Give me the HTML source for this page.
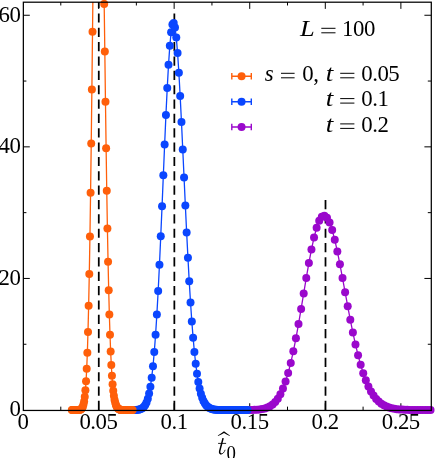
<!DOCTYPE html>
<html><head><meta charset="utf-8"><title>chart</title>
<style>
html,body{margin:0;padding:0;background:#fff;}
body{width:435px;height:458px;position:relative;overflow:hidden;font-family:"Liberation Serif",serif;}
</style></head><body>
<svg width="435" height="458" viewBox="0 0 435 458" style="position:absolute;left:0;top:0;will-change:transform">
<defs><clipPath id="ax"><rect x="23.00" y="2.09" width="408.20" height="407.96"/></clipPath></defs>
<rect width="435" height="458" fill="#fff"/>
<path d="M60.79 410.05 v-3.40 M60.79 2.09 v3.40 M98.58 410.05 v-6.80 M98.58 2.09 v6.80 M136.36 410.05 v-3.40 M136.36 2.09 v3.40 M174.15 410.05 v-6.80 M174.15 2.09 v6.80 M211.94 410.05 v-3.40 M211.94 2.09 v3.40 M249.73 410.05 v-6.80 M249.73 2.09 v6.80 M287.51 410.05 v-3.40 M287.51 2.09 v3.40 M325.30 410.05 v-6.80 M325.30 2.09 v6.80 M363.09 410.05 v-3.40 M363.09 2.09 v3.40 M400.88 410.05 v-6.80 M400.88 2.09 v6.80 M23.00 344.25 h3.40 M431.20 344.25 h-3.40 M23.00 278.45 h6.80 M431.20 278.45 h-6.80 M23.00 212.65 h3.40 M431.20 212.65 h-3.40 M23.00 146.85 h6.80 M431.20 146.85 h-6.80 M23.00 81.05 h3.40 M431.20 81.05 h-3.40 M23.00 15.25 h6.80 M431.20 15.25 h-6.80" stroke="#000" stroke-width="1.00" fill="none"/>
<line x1="98.78" y1="410.05" x2="98.78" y2="2.09" stroke="#000" stroke-width="1.75" stroke-dasharray="9.2 5.15"/>
<line x1="174.35" y1="410.05" x2="174.35" y2="13.30" stroke="#000" stroke-width="1.75" stroke-dasharray="9.2 5.15"/>
<line x1="325.50" y1="410.05" x2="325.50" y2="199.70" stroke="#000" stroke-width="1.75" stroke-dasharray="9.2 5.15"/>
<g fill="#9a08cc"><path d="M218.25 410.05 L220.84 410.05 L223.43 410.05 L226.02 410.05 L228.61 410.05 L231.19 410.05 L233.78 410.05 L236.37 410.05 L238.96 410.05 L241.55 410.04 L244.14 410.03 L246.73 410.02 L249.32 409.99 L251.91 409.94 L254.50 409.85 L257.08 409.70 L259.67 409.46 L262.26 409.08 L264.85 408.49 L267.44 407.61 L270.03 406.33 L272.62 404.51 L275.21 402.00 L277.80 398.63 L280.39 394.21 L282.97 388.56 L285.56 381.53 L288.15 373.00 L290.74 362.91 L293.33 351.29 L295.92 338.26 L298.51 324.03 L301.10 308.94 L303.69 293.41 L306.28 277.94 L308.87 263.09 L311.45 249.44 L314.04 237.53 L316.63 227.86 L319.22 220.83 L321.81 216.71 L324.40 215.65 L326.99 217.63 L329.58 222.52 L332.17 230.03 L334.76 239.81 L337.34 251.40 L339.93 264.31 L342.52 278.05 L345.11 292.15 L347.70 306.18 L350.29 319.76 L352.88 332.60 L355.47 344.47 L358.06 355.23 L360.65 364.80 L363.23 373.16 L365.82 380.34 L368.41 386.41 L371.00 391.46 L373.59 395.60 L376.18 398.95 L378.77 401.62 L381.36 403.72 L383.95 405.34 L386.54 406.59 L389.12 407.54 L391.71 408.24 L394.30 408.76 L396.89 409.14 L399.48 409.42 L402.07 409.61 L404.66 409.75 L407.25 409.85 L409.84 409.91 L412.43 409.96 L415.01 409.99 L417.60 410.01 L420.19 410.02 L422.78 410.03 L425.37 410.04 L427.96 410.04 L430.55 410.05" fill="none" stroke="#9a08cc" stroke-width="1.30" stroke-linejoin="round" clip-path="url(#ax)"/>
<circle cx="218.25" cy="410.05" r="4.00"/>
<circle cx="220.84" cy="410.05" r="4.00"/>
<circle cx="223.43" cy="410.05" r="4.00"/>
<circle cx="226.02" cy="410.05" r="4.00"/>
<circle cx="228.61" cy="410.05" r="4.00"/>
<circle cx="231.19" cy="410.05" r="4.00"/>
<circle cx="233.78" cy="410.05" r="4.00"/>
<circle cx="236.37" cy="410.05" r="4.00"/>
<circle cx="238.96" cy="410.05" r="4.00"/>
<circle cx="241.55" cy="410.04" r="4.00"/>
<circle cx="244.14" cy="410.03" r="4.00"/>
<circle cx="246.73" cy="410.02" r="4.00"/>
<circle cx="249.32" cy="409.99" r="4.00"/>
<circle cx="251.91" cy="409.94" r="4.00"/>
<circle cx="254.50" cy="409.85" r="4.00"/>
<circle cx="257.08" cy="409.70" r="4.00"/>
<circle cx="259.67" cy="409.46" r="4.00"/>
<circle cx="262.26" cy="409.08" r="4.00"/>
<circle cx="264.85" cy="408.49" r="4.00"/>
<circle cx="267.44" cy="407.61" r="4.00"/>
<circle cx="270.03" cy="406.33" r="4.00"/>
<circle cx="272.62" cy="404.51" r="4.00"/>
<circle cx="275.21" cy="402.00" r="4.00"/>
<circle cx="277.80" cy="398.63" r="4.00"/>
<circle cx="280.39" cy="394.21" r="4.00"/>
<circle cx="282.97" cy="388.56" r="4.00"/>
<circle cx="285.56" cy="381.53" r="4.00"/>
<circle cx="288.15" cy="373.00" r="4.00"/>
<circle cx="290.74" cy="362.91" r="4.00"/>
<circle cx="293.33" cy="351.29" r="4.00"/>
<circle cx="295.92" cy="338.26" r="4.00"/>
<circle cx="298.51" cy="324.03" r="4.00"/>
<circle cx="301.10" cy="308.94" r="4.00"/>
<circle cx="303.69" cy="293.41" r="4.00"/>
<circle cx="306.28" cy="277.94" r="4.00"/>
<circle cx="308.87" cy="263.09" r="4.00"/>
<circle cx="311.45" cy="249.44" r="4.00"/>
<circle cx="314.04" cy="237.53" r="4.00"/>
<circle cx="316.63" cy="227.86" r="4.00"/>
<circle cx="319.22" cy="220.83" r="4.00"/>
<circle cx="321.81" cy="216.71" r="4.00"/>
<circle cx="324.40" cy="215.65" r="4.00"/>
<circle cx="326.99" cy="217.63" r="4.00"/>
<circle cx="329.58" cy="222.52" r="4.00"/>
<circle cx="332.17" cy="230.03" r="4.00"/>
<circle cx="334.76" cy="239.81" r="4.00"/>
<circle cx="337.34" cy="251.40" r="4.00"/>
<circle cx="339.93" cy="264.31" r="4.00"/>
<circle cx="342.52" cy="278.05" r="4.00"/>
<circle cx="345.11" cy="292.15" r="4.00"/>
<circle cx="347.70" cy="306.18" r="4.00"/>
<circle cx="350.29" cy="319.76" r="4.00"/>
<circle cx="352.88" cy="332.60" r="4.00"/>
<circle cx="355.47" cy="344.47" r="4.00"/>
<circle cx="358.06" cy="355.23" r="4.00"/>
<circle cx="360.65" cy="364.80" r="4.00"/>
<circle cx="363.23" cy="373.16" r="4.00"/>
<circle cx="365.82" cy="380.34" r="4.00"/>
<circle cx="368.41" cy="386.41" r="4.00"/>
<circle cx="371.00" cy="391.46" r="4.00"/>
<circle cx="373.59" cy="395.60" r="4.00"/>
<circle cx="376.18" cy="398.95" r="4.00"/>
<circle cx="378.77" cy="401.62" r="4.00"/>
<circle cx="381.36" cy="403.72" r="4.00"/>
<circle cx="383.95" cy="405.34" r="4.00"/>
<circle cx="386.54" cy="406.59" r="4.00"/>
<circle cx="389.12" cy="407.54" r="4.00"/>
<circle cx="391.71" cy="408.24" r="4.00"/>
<circle cx="394.30" cy="408.76" r="4.00"/>
<circle cx="396.89" cy="409.14" r="4.00"/>
<circle cx="399.48" cy="409.42" r="4.00"/>
<circle cx="402.07" cy="409.61" r="4.00"/>
<circle cx="404.66" cy="409.75" r="4.00"/>
<circle cx="407.25" cy="409.85" r="4.00"/>
<circle cx="409.84" cy="409.91" r="4.00"/>
<circle cx="412.43" cy="409.96" r="4.00"/>
<circle cx="415.01" cy="409.99" r="4.00"/>
<circle cx="417.60" cy="410.01" r="4.00"/>
<circle cx="420.19" cy="410.02" r="4.00"/>
<circle cx="422.78" cy="410.03" r="4.00"/>
<circle cx="425.37" cy="410.04" r="4.00"/>
<circle cx="427.96" cy="410.04" r="4.00"/>
<circle cx="430.55" cy="410.05" r="4.00"/></g>
<g fill="#0a46ff"><path d="M120.62 410.05 L121.92 410.05 L123.21 410.05 L124.51 410.05 L125.80 410.05 L127.10 410.05 L128.39 410.05 L129.69 410.05 L130.98 410.04 L132.28 410.03 L133.57 410.02 L134.86 409.98 L136.16 409.92 L137.45 409.82 L138.75 409.63 L140.04 409.33 L141.34 408.83 L142.63 408.04 L143.93 406.82 L145.22 405.01 L146.51 402.38 L147.81 398.67 L149.10 393.54 L150.40 386.67 L151.69 377.68 L152.99 366.22 L154.28 351.98 L155.58 334.74 L156.87 314.40 L158.17 291.01 L159.46 264.84 L160.75 236.33 L162.05 206.17 L163.34 175.21 L164.64 144.47 L165.93 115.05 L167.23 88.11 L168.52 64.73 L169.82 45.87 L171.11 32.32 L172.41 24.61 L173.70 22.99 L174.99 27.42 L176.29 37.61 L177.58 52.98 L178.88 72.77 L180.17 96.10 L181.47 121.99 L182.76 149.45 L184.06 177.55 L185.35 205.44 L186.64 232.39 L187.94 257.81 L189.23 281.29 L190.53 302.53 L191.82 321.39 L193.12 337.84 L194.41 351.95 L195.71 363.87 L197.00 373.77 L198.30 381.88 L199.59 388.43 L200.88 393.64 L202.18 397.74 L203.47 400.91 L204.77 403.34 L206.06 405.17 L207.36 406.54 L208.65 407.56 L209.95 408.29 L211.24 408.83 L212.53 409.21 L213.83 409.47 L215.12 409.66 L216.42 409.79 L217.71 409.88 L219.01 409.94 L220.30 409.98 L221.60 410.00 L222.89 410.02 L224.19 410.03 L225.48 410.04 L226.77 410.04 L228.07 410.05 L229.36 410.05 L230.66 410.05 L231.95 410.05 L233.25 410.05 L234.54 410.05 L235.84 410.05 L237.13 410.05 L238.43 410.05 L239.72 410.05 L241.01 410.05 L242.31 410.05 L243.60 410.05 L244.90 410.05 L246.19 410.05 L247.49 410.05" fill="none" stroke="#0a46ff" stroke-width="1.30" stroke-linejoin="round" clip-path="url(#ax)"/>
<circle cx="120.62" cy="410.05" r="4.00"/>
<circle cx="121.92" cy="410.05" r="4.00"/>
<circle cx="123.21" cy="410.05" r="4.00"/>
<circle cx="124.51" cy="410.05" r="4.00"/>
<circle cx="125.80" cy="410.05" r="4.00"/>
<circle cx="127.10" cy="410.05" r="4.00"/>
<circle cx="128.39" cy="410.05" r="4.00"/>
<circle cx="129.69" cy="410.05" r="4.00"/>
<circle cx="130.98" cy="410.04" r="4.00"/>
<circle cx="132.28" cy="410.03" r="4.00"/>
<circle cx="133.57" cy="410.02" r="4.00"/>
<circle cx="134.86" cy="409.98" r="4.00"/>
<circle cx="136.16" cy="409.92" r="4.00"/>
<circle cx="137.45" cy="409.82" r="4.00"/>
<circle cx="138.75" cy="409.63" r="4.00"/>
<circle cx="140.04" cy="409.33" r="4.00"/>
<circle cx="141.34" cy="408.83" r="4.00"/>
<circle cx="142.63" cy="408.04" r="4.00"/>
<circle cx="143.93" cy="406.82" r="4.00"/>
<circle cx="145.22" cy="405.01" r="4.00"/>
<circle cx="146.51" cy="402.38" r="4.00"/>
<circle cx="147.81" cy="398.67" r="4.00"/>
<circle cx="149.10" cy="393.54" r="4.00"/>
<circle cx="150.40" cy="386.67" r="4.00"/>
<circle cx="151.69" cy="377.68" r="4.00"/>
<circle cx="152.99" cy="366.22" r="4.00"/>
<circle cx="154.28" cy="351.98" r="4.00"/>
<circle cx="155.58" cy="334.74" r="4.00"/>
<circle cx="156.87" cy="314.40" r="4.00"/>
<circle cx="158.17" cy="291.01" r="4.00"/>
<circle cx="159.46" cy="264.84" r="4.00"/>
<circle cx="160.75" cy="236.33" r="4.00"/>
<circle cx="162.05" cy="206.17" r="4.00"/>
<circle cx="163.34" cy="175.21" r="4.00"/>
<circle cx="164.64" cy="144.47" r="4.00"/>
<circle cx="165.93" cy="115.05" r="4.00"/>
<circle cx="167.23" cy="88.11" r="4.00"/>
<circle cx="168.52" cy="64.73" r="4.00"/>
<circle cx="169.82" cy="45.87" r="4.00"/>
<circle cx="171.11" cy="32.32" r="4.00"/>
<circle cx="172.41" cy="24.61" r="4.00"/>
<circle cx="173.70" cy="22.99" r="4.00"/>
<circle cx="174.99" cy="27.42" r="4.00"/>
<circle cx="176.29" cy="37.61" r="4.00"/>
<circle cx="177.58" cy="52.98" r="4.00"/>
<circle cx="178.88" cy="72.77" r="4.00"/>
<circle cx="180.17" cy="96.10" r="4.00"/>
<circle cx="181.47" cy="121.99" r="4.00"/>
<circle cx="182.76" cy="149.45" r="4.00"/>
<circle cx="184.06" cy="177.55" r="4.00"/>
<circle cx="185.35" cy="205.44" r="4.00"/>
<circle cx="186.64" cy="232.39" r="4.00"/>
<circle cx="187.94" cy="257.81" r="4.00"/>
<circle cx="189.23" cy="281.29" r="4.00"/>
<circle cx="190.53" cy="302.53" r="4.00"/>
<circle cx="191.82" cy="321.39" r="4.00"/>
<circle cx="193.12" cy="337.84" r="4.00"/>
<circle cx="194.41" cy="351.95" r="4.00"/>
<circle cx="195.71" cy="363.87" r="4.00"/>
<circle cx="197.00" cy="373.77" r="4.00"/>
<circle cx="198.30" cy="381.88" r="4.00"/>
<circle cx="199.59" cy="388.43" r="4.00"/>
<circle cx="200.88" cy="393.64" r="4.00"/>
<circle cx="202.18" cy="397.74" r="4.00"/>
<circle cx="203.47" cy="400.91" r="4.00"/>
<circle cx="204.77" cy="403.34" r="4.00"/>
<circle cx="206.06" cy="405.17" r="4.00"/>
<circle cx="207.36" cy="406.54" r="4.00"/>
<circle cx="208.65" cy="407.56" r="4.00"/>
<circle cx="209.95" cy="408.29" r="4.00"/>
<circle cx="211.24" cy="408.83" r="4.00"/>
<circle cx="212.53" cy="409.21" r="4.00"/>
<circle cx="213.83" cy="409.47" r="4.00"/>
<circle cx="215.12" cy="409.66" r="4.00"/>
<circle cx="216.42" cy="409.79" r="4.00"/>
<circle cx="217.71" cy="409.88" r="4.00"/>
<circle cx="219.01" cy="409.94" r="4.00"/>
<circle cx="220.30" cy="409.98" r="4.00"/>
<circle cx="221.60" cy="410.00" r="4.00"/>
<circle cx="222.89" cy="410.02" r="4.00"/>
<circle cx="224.19" cy="410.03" r="4.00"/>
<circle cx="225.48" cy="410.04" r="4.00"/>
<circle cx="226.77" cy="410.04" r="4.00"/>
<circle cx="228.07" cy="410.05" r="4.00"/>
<circle cx="229.36" cy="410.05" r="4.00"/>
<circle cx="230.66" cy="410.05" r="4.00"/>
<circle cx="231.95" cy="410.05" r="4.00"/>
<circle cx="233.25" cy="410.05" r="4.00"/>
<circle cx="234.54" cy="410.05" r="4.00"/>
<circle cx="235.84" cy="410.05" r="4.00"/>
<circle cx="237.13" cy="410.05" r="4.00"/>
<circle cx="238.43" cy="410.05" r="4.00"/>
<circle cx="239.72" cy="410.05" r="4.00"/>
<circle cx="241.01" cy="410.05" r="4.00"/>
<circle cx="242.31" cy="410.05" r="4.00"/>
<circle cx="243.60" cy="410.05" r="4.00"/>
<circle cx="244.90" cy="410.05" r="4.00"/>
<circle cx="246.19" cy="410.05" r="4.00"/>
<circle cx="247.49" cy="410.05" r="4.00"/></g>
<g fill="#ff5f0a"><path d="M71.81 410.05 L72.46 410.05 L73.11 410.05 L73.75 410.05 L74.40 410.05 L75.05 410.05 L75.70 410.05 L76.34 410.04 L76.99 410.04 L77.64 410.02 L78.28 410.00 L78.93 409.94 L79.58 409.84 L80.23 409.67 L80.87 409.36 L81.52 408.84 L82.17 408.00 L82.82 406.65 L83.46 404.56 L84.11 401.42 L84.76 396.82 L85.40 390.26 L86.05 381.17 L86.70 368.87 L87.35 352.67 L87.99 331.88 L88.64 305.86 L89.29 274.12 L89.94 236.41 L90.58 192.73 L91.23 143.47 L91.88 89.40 L92.52 31.72 L93.17 -28.01 L93.82 -87.89 L94.47 -145.81 L95.11 -199.57 L95.76 -247.00 L96.41 -286.16 L97.06 -315.41 L97.70 -333.60 L98.35 -340.06 L99.00 -334.71 L99.64 -318.01 L100.29 -290.93 L100.94 -254.82 L101.59 -211.36 L102.23 -162.41 L102.88 -109.87 L103.53 -55.60 L104.18 3.90 L104.82 51.52 L105.47 101.70 L106.12 148.29 L106.76 190.69 L107.41 228.53 L108.06 261.70 L108.71 290.29 L109.35 314.53 L110.00 334.77 L110.65 351.41 L111.29 364.89 L111.94 375.67 L112.59 384.17 L113.24 390.78 L113.88 395.86 L114.53 399.71 L115.18 402.59 L115.83 404.73 L116.47 406.29 L117.12 407.42 L117.77 408.23 L118.41 408.80 L119.06 409.20 L119.71 409.48 L120.36 409.67 L121.00 409.80 L121.65 409.89 L122.30 409.94 L122.95 409.98 L123.59 410.01 L124.24 410.02 L124.89 410.03 L125.53 410.04 L126.18 410.04 L126.83 410.05 L127.48 410.05 L128.12 410.05 L128.77 410.05 L129.42 410.05 L130.07 410.05 L130.71 410.05 L131.36 410.05 L132.01 410.05 L132.65 410.05" fill="none" stroke="#ff5f0a" stroke-width="1.30" stroke-linejoin="round" clip-path="url(#ax)"/>
<circle cx="71.81" cy="410.05" r="4.00"/>
<circle cx="72.46" cy="410.05" r="4.00"/>
<circle cx="73.11" cy="410.05" r="4.00"/>
<circle cx="73.75" cy="410.05" r="4.00"/>
<circle cx="74.40" cy="410.05" r="4.00"/>
<circle cx="75.05" cy="410.05" r="4.00"/>
<circle cx="75.70" cy="410.05" r="4.00"/>
<circle cx="76.34" cy="410.04" r="4.00"/>
<circle cx="76.99" cy="410.04" r="4.00"/>
<circle cx="77.64" cy="410.02" r="4.00"/>
<circle cx="78.28" cy="410.00" r="4.00"/>
<circle cx="78.93" cy="409.94" r="4.00"/>
<circle cx="79.58" cy="409.84" r="4.00"/>
<circle cx="80.23" cy="409.67" r="4.00"/>
<circle cx="80.87" cy="409.36" r="4.00"/>
<circle cx="81.52" cy="408.84" r="4.00"/>
<circle cx="82.17" cy="408.00" r="4.00"/>
<circle cx="82.82" cy="406.65" r="4.00"/>
<circle cx="83.46" cy="404.56" r="4.00"/>
<circle cx="84.11" cy="401.42" r="4.00"/>
<circle cx="84.76" cy="396.82" r="4.00"/>
<circle cx="85.40" cy="390.26" r="4.00"/>
<circle cx="86.05" cy="381.17" r="4.00"/>
<circle cx="86.70" cy="368.87" r="4.00"/>
<circle cx="87.35" cy="352.67" r="4.00"/>
<circle cx="87.99" cy="331.88" r="4.00"/>
<circle cx="88.64" cy="305.86" r="4.00"/>
<circle cx="89.29" cy="274.12" r="4.00"/>
<circle cx="89.94" cy="236.41" r="4.00"/>
<circle cx="90.58" cy="192.73" r="4.00"/>
<circle cx="91.23" cy="143.47" r="4.00"/>
<circle cx="91.88" cy="89.40" r="4.00"/>
<circle cx="92.52" cy="31.72" r="4.00"/>
<circle cx="104.18" cy="3.90" r="4.00"/>
<circle cx="104.82" cy="51.52" r="4.00"/>
<circle cx="105.47" cy="101.70" r="4.00"/>
<circle cx="106.12" cy="148.29" r="4.00"/>
<circle cx="106.76" cy="190.69" r="4.00"/>
<circle cx="107.41" cy="228.53" r="4.00"/>
<circle cx="108.06" cy="261.70" r="4.00"/>
<circle cx="108.71" cy="290.29" r="4.00"/>
<circle cx="109.35" cy="314.53" r="4.00"/>
<circle cx="110.00" cy="334.77" r="4.00"/>
<circle cx="110.65" cy="351.41" r="4.00"/>
<circle cx="111.29" cy="364.89" r="4.00"/>
<circle cx="111.94" cy="375.67" r="4.00"/>
<circle cx="112.59" cy="384.17" r="4.00"/>
<circle cx="113.24" cy="390.78" r="4.00"/>
<circle cx="113.88" cy="395.86" r="4.00"/>
<circle cx="114.53" cy="399.71" r="4.00"/>
<circle cx="115.18" cy="402.59" r="4.00"/>
<circle cx="115.83" cy="404.73" r="4.00"/>
<circle cx="116.47" cy="406.29" r="4.00"/>
<circle cx="117.12" cy="407.42" r="4.00"/>
<circle cx="117.77" cy="408.23" r="4.00"/>
<circle cx="118.41" cy="408.80" r="4.00"/>
<circle cx="119.06" cy="409.20" r="4.00"/>
<circle cx="119.71" cy="409.48" r="4.00"/>
<circle cx="120.36" cy="409.67" r="4.00"/>
<circle cx="121.00" cy="409.80" r="4.00"/>
<circle cx="121.65" cy="409.89" r="4.00"/>
<circle cx="122.30" cy="409.94" r="4.00"/>
<circle cx="122.95" cy="409.98" r="4.00"/>
<circle cx="123.59" cy="410.01" r="4.00"/>
<circle cx="124.24" cy="410.02" r="4.00"/>
<circle cx="124.89" cy="410.03" r="4.00"/>
<circle cx="125.53" cy="410.04" r="4.00"/>
<circle cx="126.18" cy="410.04" r="4.00"/>
<circle cx="126.83" cy="410.05" r="4.00"/>
<circle cx="127.48" cy="410.05" r="4.00"/>
<circle cx="128.12" cy="410.05" r="4.00"/>
<circle cx="128.77" cy="410.05" r="4.00"/>
<circle cx="129.42" cy="410.05" r="4.00"/>
<circle cx="130.07" cy="410.05" r="4.00"/>
<circle cx="130.71" cy="410.05" r="4.00"/>
<circle cx="131.36" cy="410.05" r="4.00"/>
<circle cx="132.01" cy="410.05" r="4.00"/>
<circle cx="132.65" cy="410.05" r="4.00"/></g>
<rect x="23.35" y="2.20" width="407.95" height="408.25" fill="none" stroke="#000" stroke-width="1.25"/>
<path d="M231.80 76.30 H251.30 M231.80 73.00 v6.60 M251.30 73.00 v6.60" stroke="#ff5f0a" stroke-width="1.4" fill="none"/><circle cx="241.55" cy="76.30" r="4.00" fill="#ff5f0a"/>
<path d="M231.80 101.70 H251.30 M231.80 98.40 v6.60 M251.30 98.40 v6.60" stroke="#0a46ff" stroke-width="1.4" fill="none"/><circle cx="241.55" cy="101.70" r="4.00" fill="#0a46ff"/>
<path d="M231.80 127.00 H251.30 M231.80 123.70 v6.60 M251.30 123.70 v6.60" stroke="#9a08cc" stroke-width="1.4" fill="none"/><circle cx="241.55" cy="127.00" r="4.00" fill="#9a08cc"/>
<g font-family="'Liberation Serif', serif" fill="#000" letter-spacing="-0.45">
<text x="20.45" y="416.35" font-size="22.80" text-anchor="end" >0</text>
<text x="20.45" y="284.75" font-size="22.80" text-anchor="end" >20</text>
<text x="20.45" y="153.15" font-size="22.80" text-anchor="end" >40</text>
<text x="20.45" y="21.55" font-size="22.80" text-anchor="end" >60</text>
<text x="22.90" y="429.30" font-size="22.80" text-anchor="middle" >0</text>
<text x="98.48" y="429.30" font-size="22.80" text-anchor="middle" >0.05</text>
<text x="174.05" y="429.30" font-size="22.80" text-anchor="middle" >0.1</text>
<text x="249.62" y="429.30" font-size="22.80" text-anchor="middle" >0.15</text>
<text x="325.20" y="429.30" font-size="22.80" text-anchor="middle" >0.2</text>
<text x="400.77" y="429.30" font-size="22.80" text-anchor="middle" >0.25</text>
<text x="300.00" y="35.90" font-size="22.80" text-anchor="start" font-style="italic" textLength="14.2" lengthAdjust="spacingAndGlyphs">L</text>
<path d="M321.30 28.30 H335.50 M321.30 32.80 H335.50" stroke="#000" stroke-width="1.0" fill="none"/>
<text x="342.00" y="35.90" font-size="22.80" text-anchor="start" >100</text>
<text x="264.80" y="80.90" font-size="22.80" text-anchor="start" font-style="italic">s</text>
<path d="M281.00 73.30 H294.60 M281.00 77.80 H294.60" stroke="#000" stroke-width="1.0" fill="none"/>
<text x="302.20" y="80.90" font-size="22.80" text-anchor="start" >0,</text>
<text x="325.80" y="80.90" font-size="22.80" text-anchor="start" font-style="italic" textLength="7.0" lengthAdjust="spacingAndGlyphs">t</text>
<path d="M340.20 73.30 H354.40 M340.20 77.80 H354.40" stroke="#000" stroke-width="1.0" fill="none"/>
<text x="361.20" y="80.90" font-size="22.80" text-anchor="start" >0.05</text>
<text x="325.80" y="106.20" font-size="22.80" text-anchor="start" font-style="italic" textLength="7.0" lengthAdjust="spacingAndGlyphs">t</text>
<path d="M340.20 98.60 H354.40 M340.20 103.10 H354.40" stroke="#000" stroke-width="1.0" fill="none"/>
<text x="361.20" y="106.20" font-size="22.80" text-anchor="start" >0.1</text>
<text x="325.80" y="131.50" font-size="22.80" text-anchor="start" font-style="italic" textLength="7.0" lengthAdjust="spacingAndGlyphs">t</text>
<path d="M340.20 123.90 H354.40 M340.20 128.40 H354.40" stroke="#000" stroke-width="1.0" fill="none"/>
<text x="361.20" y="131.50" font-size="22.80" text-anchor="start" >0.2</text>
<path d="M223.1 438.1 L219.75 450.9 C219.3 452.9 220.0 453.95 221.3 453.95" fill="none" stroke="#000" stroke-width="1.5" stroke-linecap="butt"/>
<path d="M220.6 453.8 C222.6 454.3 224.2 452.5 225.15 449.8" fill="none" stroke="#000" stroke-width="0.8"/>
<path d="M218.1 443.4 H226.1" fill="none" stroke="#000" stroke-width="0.85"/>
<text x="226.50" y="459.60" font-size="20.80" text-anchor="start" textLength="9.0" lengthAdjust="spacingAndGlyphs">0</text>
<path d="M217.8 435.5 Q221.4 433.4 224.0 431.3 Q226.7 433.4 229.9 435.5 L229.7 435.9 Q226.4 434.5 224.0 433.1 Q221.6 434.5 218.0 435.9 Z" fill="#000"/>
</g>
</svg>
</body></html>
